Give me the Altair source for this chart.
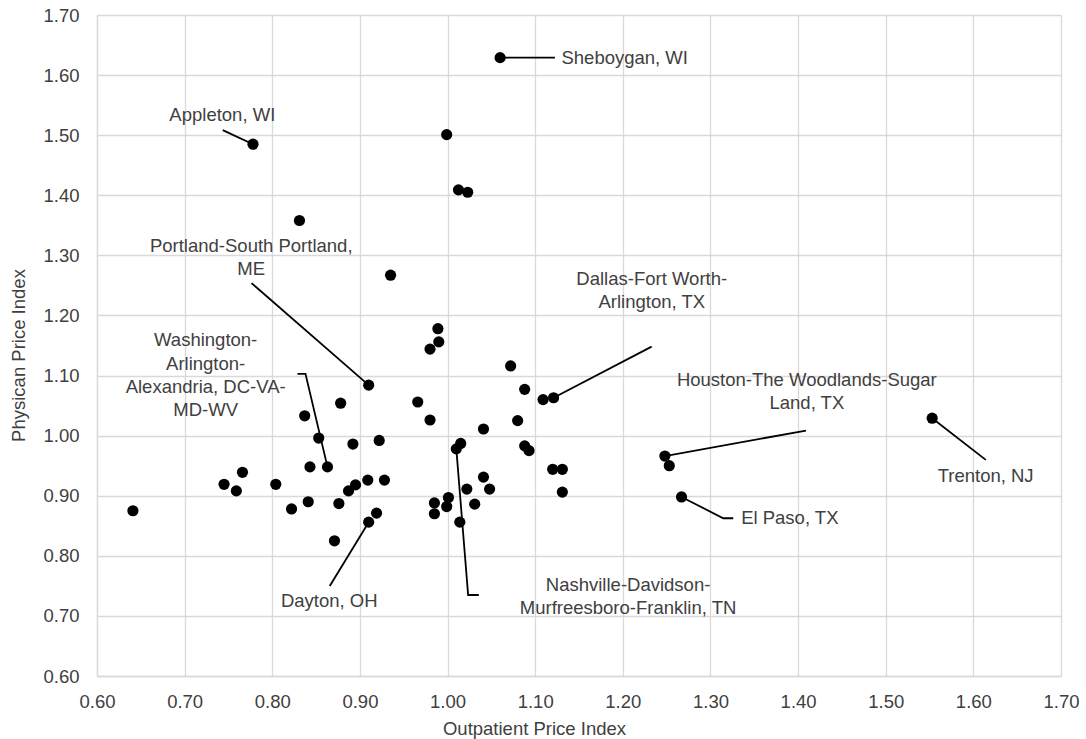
import altair as alt
import pandas as pd

# ---- data ----
outpatient = [0.641, 0.745, 0.759, 0.766, 0.778, 0.804, 0.822, 0.831, 0.837, 0.841,
              0.843, 0.853, 0.863, 0.871, 0.876, 0.878, 0.887, 0.892, 0.895, 0.909,
              0.910, 0.910, 0.919, 0.922, 0.928, 0.935, 0.966, 0.980, 0.980, 0.985,
              0.985, 0.989, 0.990, 0.999, 0.999, 1.001, 1.010, 1.0125, 1.014, 1.015,
              1.022, 1.023, 1.031, 1.041, 1.041, 1.048, 1.060, 1.072, 1.080, 1.088,
              1.088, 1.093, 1.109, 1.120, 1.121, 1.131, 1.131, 1.248, 1.253, 1.267,
              1.553]
physician = [0.875, 0.919, 0.908, 0.939, 1.485, 0.919, 0.878, 1.358, 1.033, 0.890,
             0.948, 0.996, 0.948, 0.825, 0.887, 1.054, 0.908, 0.986, 0.918, 0.926,
             1.084, 0.856, 0.871, 0.992, 0.926, 1.267, 1.056, 1.144, 1.026, 0.888,
             0.870, 1.178, 1.156, 1.501, 0.882, 0.897, 0.978, 1.409, 0.856, 0.987,
             0.911, 1.405, 0.886, 1.011, 0.931, 0.911, 1.629, 1.116, 1.025, 1.077,
             0.983, 0.975, 1.060, 0.944, 1.063, 0.944, 0.906, 0.966, 0.950, 0.898,
             1.029]

# annotation text lines (position in data units)
label_text = ["Sheboygan, WI", "Appleton, WI",
              "Portland-South Portland,", "ME",
              "Washington-", "Arlington-", "Alexandria, DC-VA-", "MD-WV",
              "Dallas-Fort Worth-", "Arlington, TX",
              "Houston-The Woodlands-Sugar", "Land, TX",
              "El Paso, TX", "Trenton, NJ", "Dayton, OH",
              "Nashville-Davidson-", "Murfreesboro-Franklin, TN"]
label_x = [1.130, 0.743,
           0.776, 0.776,
           0.724, 0.724, 0.724, 0.724,
           1.233, 1.233,
           1.410, 1.410,
           1.335, 1.614, 0.865,
           1.206, 1.206]
label_y = [1.629, 1.533,
           1.316, 1.277,
           1.159, 1.120, 1.081, 1.043,
           1.261, 1.223,
           1.093, 1.055,
           0.8625, 0.933, 0.725,
           0.7515, 0.7137]
label_align = ["left", "center",
               "center", "center",
               "center", "center", "center", "center",
               "center", "center",
               "center", "center",
               "left", "center", "center",
               "center", "center"]

# leader lines (polylines, vertices in data units)
leader_id = ["she", "she", "app", "app", "por", "por",
             "was", "was", "was", "dal", "dal", "hou", "hou",
             "elp", "elp", "elp", "tre", "tre", "day", "day",
             "nas", "nas", "nas"]
leader_x = [1.060, 1.1225, 0.7435, 0.778, 0.7763, 0.910,
            0.8288, 0.8379, 0.863, 1.2329, 1.121, 1.409, 1.248,
            1.267, 1.3146, 1.326, 1.553, 1.6142, 0.8656, 0.910,
            1.010, 1.0235, 1.0357]
leader_y = [1.629, 1.629, 1.5085, 1.485, 1.2538, 1.084,
            1.1028, 1.1028, 0.948, 1.1482, 1.063, 1.0084, 0.966,
            0.898, 0.8625, 0.8625, 1.029, 0.9596, 0.7498, 0.856,
            0.978, 0.7348, 0.7348]

ticks = [round(0.6 + 0.1 * i, 2) for i in range(12)]

pts = pd.DataFrame({"x": outpatient, "y": physician})
labels = pd.DataFrame({"t": label_text, "x": label_x, "y": label_y, "a": label_align})
leaders = pd.DataFrame({"id": leader_id, "x": leader_x, "y": leader_y,
                        "o": list(range(len(leader_id)))})

FONT = "Liberation Sans"
TXT = "#404040"
GRID = "#d9d9d9"
FS = 18.5

xs = alt.Scale(domain=[0.6, 1.7], nice=False, zero=False)
ys = alt.Scale(domain=[0.6, 1.7], nice=False, zero=False)

xaxis = alt.Axis(values=ticks, format=".2f", title="Outpatient Price Index",
                 grid=True, gridColor=GRID, gridWidth=1.3, domainColor=GRID,
                 domainWidth=1.3, ticks=False, labelFlush=False, labelOverlap=False,
                 labelFont=FONT, labelFontSize=FS,
                 labelColor=TXT, labelPadding=16, titleFont=FONT, titleFontSize=FS,
                 titleFontWeight="normal", titleColor=TXT, titleX=437,
                 titleY=52, titleBaseline="middle", titleAlign="center")
yaxis = alt.Axis(values=ticks, format=".2f", title="Physican Price Index",
                 grid=True, gridColor=GRID, gridWidth=1.3, domainColor=GRID,
                 domainWidth=1.3, ticks=False, labelFlush=False, labelOverlap=False,
                 labelFont=FONT, labelFontSize=FS,
                 labelColor=TXT, labelPadding=18, titleFont=FONT, titleFontSize=FS,
                 titleFontWeight="normal", titleColor=TXT, titleX=-79, titleY=340,
                 titleAngle=270, titleBaseline="middle", titleAlign="center")

base_pts = alt.Chart(pts).mark_circle(size=125, color="black", opacity=1).encode(
    x=alt.X("x:Q", scale=xs, axis=xaxis),
    y=alt.Y("y:Q", scale=ys, axis=yaxis),
)

lines = alt.Chart(leaders).mark_line(color="black", strokeWidth=1.8).encode(
    x=alt.X("x:Q", scale=xs),
    y=alt.Y("y:Q", scale=ys),
    detail="id:N",
    order="o:Q",
)

def text_layer(align):
    return alt.Chart(labels[labels["a"] == align]).mark_text(
        font=FONT, fontSize=FS, color=TXT, align=align, baseline="middle"
    ).encode(x=alt.X("x:Q", scale=xs), y=alt.Y("y:Q", scale=ys), text="t:N")

chart = alt.layer(lines, base_pts, text_layer("center"), text_layer("left")).properties(
    width=964, height=661,
    autosize=alt.AutoSizeParams(type="none"),
    padding={"left": 97, "top": 15, "right": 25, "bottom": 63},
).configure_view(stroke=None).configure(background="white")

chart.save("out.html", embed_options={"renderer": "svg", "actions": False})
